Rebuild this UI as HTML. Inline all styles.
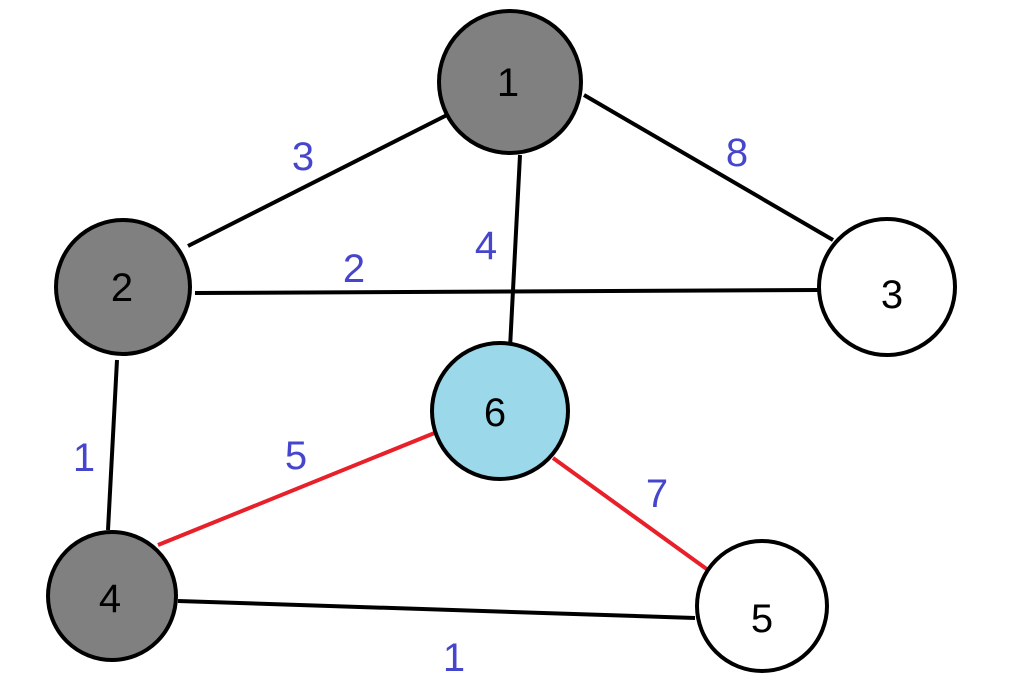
<!DOCTYPE html>
<html><head><meta charset="utf-8"><style>html,body{margin:0;padding:0;background:#fff}svg{display:block}</style></head>
<body>
<svg width="1021" height="691" viewBox="0 0 1021 691" xmlns="http://www.w3.org/2000/svg">
<g stroke="#000" stroke-width="4" fill="none">
<line x1="447" y1="115" x2="188" y2="246"/>
<line x1="584" y1="95" x2="833" y2="240"/>
<line x1="520" y1="155" x2="510" y2="348"/>
<line x1="195" y1="293" x2="818" y2="290"/>
<line x1="117" y1="360" x2="108" y2="530"/>
<line x1="178" y1="601" x2="695" y2="618"/>
</g>
<g stroke="#e8202a" stroke-width="4">
<line x1="158" y1="545" x2="437" y2="432"/>
<line x1="553" y1="458" x2="708" y2="570"/>
</g>
<g stroke="#000" stroke-width="4">
<circle cx="510" cy="82" r="71" fill="#808080"/>
<circle cx="123" cy="287" r="67" fill="#808080"/>
<circle cx="887" cy="287" r="68" fill="#fff"/>
<circle cx="500" cy="411" r="68" fill="#9ad8ea"/>
<circle cx="112" cy="596" r="64" fill="#808080"/>
<circle cx="762" cy="606" r="65" fill="#fff"/>
</g>
<g font-family="Liberation Sans, DejaVu Sans, sans-serif" font-size="40" text-anchor="middle" fill="#000">
<text x="508" y="96">1</text>
<text x="122" y="301">2</text>
<text x="892" y="308">3</text>
<text x="495" y="426">6</text>
<text x="110" y="612">4</text>
<text x="762" y="632">5</text>
</g>
<g font-family="Liberation Sans, DejaVu Sans, sans-serif" font-size="40" text-anchor="middle" fill="#4646cc">
<text x="303" y="170">3</text>
<text x="737" y="166">8</text>
<text x="486" y="259">4</text>
<text x="354" y="282">2</text>
<text x="84" y="471">1</text>
<text x="296" y="469">5</text>
<text x="657" y="507">7</text>
<text x="454" y="671">1</text>
</g>
</svg>
</body></html>
